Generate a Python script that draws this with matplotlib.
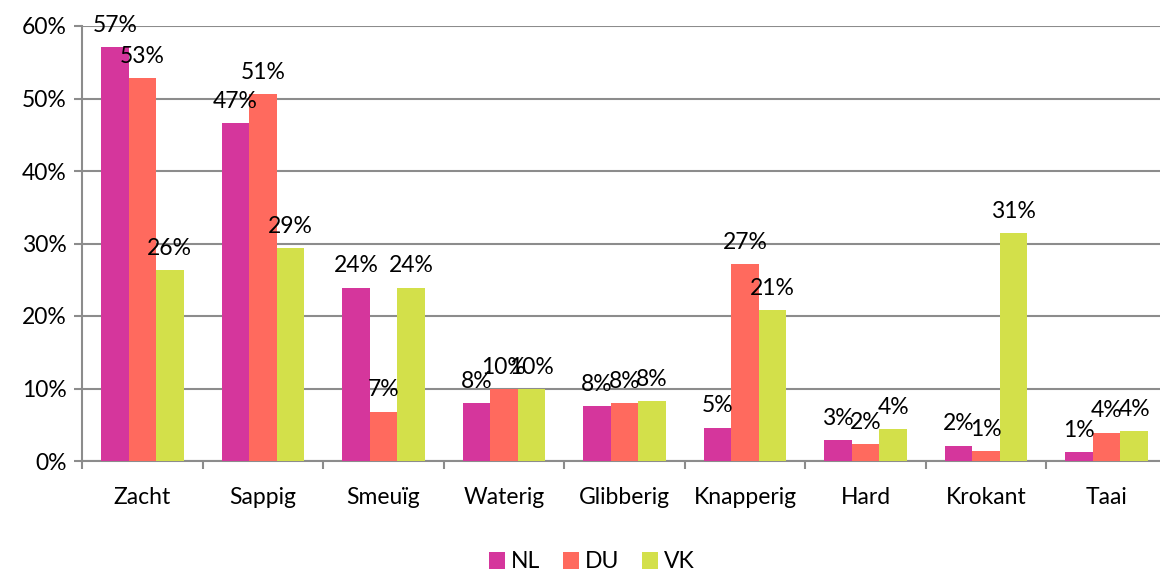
import numpy as np
import matplotlib
matplotlib.use("Agg")
import matplotlib.pyplot as plt
from matplotlib.ticker import FixedLocator, FuncFormatter

plt.rcParams['font.family'] = ['Lato', 'DejaVu Sans']

categories = ['Zacht', 'Sappig', 'Smeuïg', 'Waterig', 'Glibberig',
              'Knapperig', 'Hard', 'Krokant', 'Taai']
nl = [57.1, 46.6, 23.9, 8.0, 7.6, 4.6, 2.9, 2.1, 1.2]
du = [52.8, 50.6, 6.8, 9.9, 8.0, 27.2, 2.3, 1.4, 3.9]
vk = [26.3, 29.4, 23.9, 9.9, 8.3, 20.8, 4.4, 31.4, 4.1]
series_names = ['NL', 'DU', 'VK']
colors = ['#D5369C', '#FF6A5E', '#D3E04A']

fig = plt.figure(figsize=(11.6, 5.74), dpi=100)
ax = fig.add_axes([82/1160, 113/574, 1085/1160, 435/574])

x = np.arange(len(categories))
w = 0.228
for i, (vals, name, c) in enumerate(zip([nl, du, vk], series_names, colors)):
    pos = x + (i - 1) * w
    ax.bar(pos, vals, width=w, color=c, label=name, zorder=3)
    for px, v in zip(pos, vals):
        ax.annotate('%d%%' % round(v), (px, v), xytext=(0, 11),
                    textcoords='offset points', ha='center', va='baseline',
                    fontsize=16.5, color='black', zorder=4)

ax.set_xlim(-0.5, len(categories) - 0.5)
ax.set_ylim(0, 60)
ax.set_yticks(np.arange(0, 61, 10))
ax.yaxis.set_major_formatter(FuncFormatter(lambda v, p: '%d%%' % v))
ax.grid(axis='y', color='#8c8c8c', linewidth=1.5, zorder=0)

ax.xaxis.set_major_locator(FixedLocator(np.arange(-0.5, len(categories), 1)))
ax.xaxis.set_major_formatter(FuncFormatter(lambda v, p: ''))
ax.xaxis.set_minor_locator(FixedLocator(x))
ax.set_xticklabels(categories, minor=True)
ax.tick_params(axis='x', which='major', length=6, width=1.5, color='#8c8c8c')
ax.tick_params(axis='x', which='minor', length=0, pad=19, labelsize=16.5)
ax.tick_params(axis='y', length=6, width=1.5, color='#8c8c8c', labelsize=16.5, pad=5)

for s in ['top', 'right']:
    ax.spines[s].set_visible(False)
ax.spines['left'].set_color('#8c8c8c')
ax.spines['left'].set_linewidth(1.5)
ax.spines['bottom'].set_color('#8c8c8c')
ax.spines['bottom'].set_linewidth(1.5)

fig.legend(loc='center', bbox_to_anchor=(592/1160, 1 - 562/574), ncol=3,
           frameon=False, fontsize=16.5, handlelength=0.7, handleheight=0.7,
           handletextpad=0.25, columnspacing=1.0)

fig.savefig('out.png', dpi=100)
